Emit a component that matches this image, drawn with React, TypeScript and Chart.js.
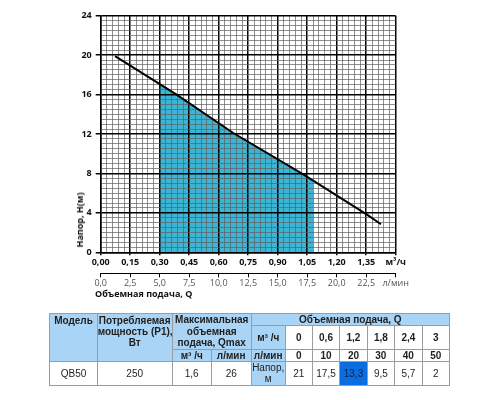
import React, { useEffect, useRef } from 'react';
import { Chart, registerables } from 'chart.js';

Chart.register(...registerables);

// ---- chart data ----
const curveFlow = [0.073, 0.386, 0.674, 1.03, 1.356, 1.425];
const curveHead = [19.9, 16.0, 12.1, 7.9, 3.8, 2.85];
const zoneFlow = [0.3, 0.386, 0.674, 1.03, 1.08];
const zoneHead = [17.0, 16.0, 12.1, 7.9, 7.3];

const flowTickLabels = ['0,00', '0,15', '0,30', '0,45', '0,60', '0,75', '0,90', '1,05', '1,20', '1,35', 'м³/ч'];
const lpmTickLabels = ['0,0', '2,5', '5,0', '7,5', '10,0', '12,5', '15,0', '17,5', '20,0', '22,5', 'л/мин'];
const headTickLabels = ['0', '4', '8', '12', '16', '20', '24'];

const flowStep = 0.15;
const lpmStep = 2.5;
const headStep = 4;
const flowMinorPerMajor = 5;
const headMinorPerMajor = 8;

// ---- table data ----
const tableModel = 'QB50';
const tablePower = '250';
const tableQmaxM3h = '1,6';
const tableQmaxLpm = '26';
const tableFlowM3h = ['0', '0,6', '1,2', '1,8', '2,4', '3'];
const tableFlowLpm = ['0', '10', '20', '30', '40', '50'];
const tableHead = ['21', '17,5', '13,3', '9,5', '5,7', '2'];
const highlightIndex = 2;

const FILL = '#3cb5d4';
const HEADER_BG = '#aad4f5';
const BORDER = '1px solid #9c9c9c';
const MINOR = '#5e5e5e';

function ChartCanvas() {
  const ref = useRef<HTMLCanvasElement | null>(null);
  useEffect(() => {
    if (!ref.current) return;
    const flowMax = flowStep * (flowTickLabels.length - 1);
    const lpmMax = lpmStep * (lpmTickLabels.length - 1);
    const headMax = headStep * (headTickLabels.length - 1);
    const axisFont = { family: '"Open Sans", sans-serif', size: 9, weight: 'bold' as const };
    const chart = new Chart(ref.current, {
      type: 'line',
      data: {
        datasets: [
          {
            data: zoneFlow.map((q, i) => ({ x: q, y: zoneHead[i] })),
            fill: 'origin',
            backgroundColor: FILL,
            borderWidth: 0,
            pointRadius: 0,
            xAxisID: 'x',
            yAxisID: 'y',
          },
          {
            data: curveFlow.map((q, i) => ({ x: q, y: curveHead[i] })),
            fill: false,
            borderColor: '#000',
            borderWidth: 2,
            pointRadius: 0,
            tension: 0,
            xAxisID: 'x',
            yAxisID: 'y',
          },
        ],
      },
      options: {
        responsive: false,
        animation: false,
        events: [],
        layout: { padding: { top: 15.7, right: 104.3, bottom: 6.7, left: 0 } },
        plugins: {
          legend: { display: false },
          tooltip: { enabled: false },
          filler: { drawTime: 'beforeDraw' },
        } as any,
        scales: {
          x: {
            type: 'linear',
            position: 'bottom',
            weight: 0,
            min: 0,
            max: flowMax,
            afterBuildTicks: (scale: any) => {
              const n = (flowTickLabels.length - 1) * flowMinorPerMajor;
              scale.ticks = Array.from({ length: n + 1 }, (_, i) => ({ value: (i * flowStep) / flowMinorPerMajor }));
            },
            afterFit: (scale: any) => {
              scale.height = 21;
            },
            ticks: {
              autoSkip: false,
              maxRotation: 0,
              padding: 2,
              color: '#111',
              font: axisFont,
              callback: (_v: any, i: number) => (i % flowMinorPerMajor === 0 ? flowTickLabels[i / flowMinorPerMajor] : ''),
            },
            grid: {
              color: (c: any) => (c.index % flowMinorPerMajor === 0 ? '#000' : MINOR),
              lineWidth: (c: any) => (c.index % flowMinorPerMajor === 0 ? 1.5 : 0.7),
              tickColor: (c: any) => (c.index % flowMinorPerMajor === 0 ? '#000' : 'rgba(0,0,0,0)'),
              tickLength: 3,
              drawTicks: true,
            },
            border: { display: true, color: '#000', width: 1.5 },
          },
          x2: {
            type: 'linear',
            position: 'bottom',
            weight: 1,
            min: 0,
            max: lpmMax,
            afterBuildTicks: (scale: any) => {
              scale.ticks = lpmTickLabels.map((_, i) => ({ value: i * lpmStep }));
            },
            afterFit: (scale: any) => {
              scale.height = 20;
            },
            ticks: {
              autoSkip: false,
              maxRotation: 0,
              padding: 1,
              color: '#555',
              font: { family: '"Open Sans", sans-serif', size: 9 },
              callback: (_v: any, i: number) => lpmTickLabels[i],
            },
            grid: {
              drawOnChartArea: false,
              drawTicks: true,
              tickLength: 4,
              color: '#000',
              lineWidth: 1,
            },
            border: { display: true, color: '#000', width: 1 },
          },
          y: {
            type: 'linear',
            position: 'left',
            min: 0,
            max: headMax,
            afterBuildTicks: (scale: any) => {
              const n = (headTickLabels.length - 1) * headMinorPerMajor;
              scale.ticks = Array.from({ length: n + 1 }, (_, i) => ({ value: (i * headStep) / headMinorPerMajor }));
            },
            afterFit: (scale: any) => {
              scale.width = 100.7;
            },
            ticks: {
              autoSkip: false,
              padding: 4,
              color: '#111',
              font: axisFont,
              callback: (_v: any, i: number) => (i % headMinorPerMajor === 0 ? headTickLabels[i / headMinorPerMajor] : ''),
            },
            grid: {
              color: (c: any) => (c.index % headMinorPerMajor === 0 ? '#000' : MINOR),
              lineWidth: (c: any) => (c.index % headMinorPerMajor === 0 ? 1.5 : 0.7),
              tickColor: (c: any) => (c.index % headMinorPerMajor === 0 ? '#000' : 'rgba(0,0,0,0)'),
              tickLength: 5,
              drawTicks: true,
            },
            border: { display: true, color: '#000', width: 1.5 },
          },
        },
      } as any,
    });
    return () => chart.destroy();
  }, []);
  return <canvas ref={ref} width={500} height={300} style={{ display: 'block', position: 'absolute', left: 0, top: 0 }} />;
}

const cellBase: React.CSSProperties = {
  border: BORDER,
  padding: 0,
  textAlign: 'center',
  verticalAlign: 'middle',
  lineHeight: '11.2px',
  overflow: 'hidden',
  whiteSpace: 'nowrap',
};
const hdr: React.CSSProperties = { ...cellBase, background: HEADER_BG, fontWeight: 'bold' };
const val: React.CSSProperties = { ...cellBase, background: '#fff' };
const valBold: React.CSSProperties = { ...val, fontWeight: 'bold' };

function DataTable() {
  const colWidths = [47.4, 75, 39, 40, 34, 27, 27.6, 27.4, 27.3, 27.7, 27.3];
  return (
    <table
      style={{
        position: 'absolute',
        left: 49.3,
        top: 312.7,
        width: 399.7,
        borderCollapse: 'collapse',
        tableLayout: 'fixed',
        fontFamily: '"Liberation Sans", Arial, sans-serif',
        fontSize: 10,
        color: '#1e1e1e',
      }}
    >
      <colgroup>
        {colWidths.map((w, i) => (
          <col key={i} style={{ width: w }} />
        ))}
      </colgroup>
      <tbody>
        <tr style={{ height: 11 }}>
          <td rowSpan={3} style={{ ...hdr, verticalAlign: 'top', paddingTop: 1 }}>Модель</td>
          <td rowSpan={3} style={{ ...hdr, verticalAlign: 'top', paddingTop: 1 }}>
            Потребляемая
            <br />
            мощность (P1),
            <br />
            Вт
          </td>
          <td colSpan={2} rowSpan={2} style={hdr}>
            Максимальная
            <br />
            объемная
            <br />
            подача, Qmax
          </td>
          <td colSpan={7} style={hdr}>Объемная подача, Q</td>
        </tr>
        <tr style={{ height: 24 }}>
          <td style={hdr}>м³ /ч</td>
          {tableFlowM3h.map((v, i) => (
            <td key={i} style={valBold}>{v}</td>
          ))}
        </tr>
        <tr style={{ height: 11 }}>
          <td style={hdr}>м³ /ч</td>
          <td style={hdr}>л/мин</td>
          <td style={hdr}>л/мин</td>
          {tableFlowLpm.map((v, i) => (
            <td key={i} style={valBold}>{v}</td>
          ))}
        </tr>
        <tr style={{ height: 21.5 }}>
          <td style={val}>{tableModel}</td>
          <td style={val}>{tablePower}</td>
          <td style={val}>{tableQmaxM3h}</td>
          <td style={val}>{tableQmaxLpm}</td>
          <td style={{ ...cellBase, background: HEADER_BG }}>
            Напор,
            <br />м
          </td>
          {tableHead.map((v, i) => (
            <td
              key={i}
              style={i === highlightIndex ? { ...val, background: '#0a6de0', color: '#0d2550' } : val}
            >
              {v}
            </td>
          ))}
        </tr>
      </tbody>
    </table>
  );
}

export default function App() {
  return (
    <div style={{ position: 'absolute', left: 0, top: 0, width: 500, height: 400, background: '#fff', overflow: 'hidden' }}>
      <ChartCanvas />
      <div
        style={{
          position: 'absolute',
          left: 80,
          top: 220,
          transform: 'translate(-50%, -50%) rotate(-90deg)',
          whiteSpace: 'nowrap',
          fontFamily: '"Open Sans", sans-serif',
          fontWeight: 'bold',
          fontSize: 9,
          lineHeight: '10px',
          color: '#111',
        }}
      >
        Напор, H(м)
      </div>
      <div
        style={{
          position: 'absolute',
          left: 95,
          top: 289,
          whiteSpace: 'nowrap',
          fontFamily: '"Open Sans", sans-serif',
          fontWeight: 'bold',
          fontSize: 9,
          lineHeight: '10px',
          color: '#111',
        }}
      >
        Объемная подача, Q
      </div>
      <DataTable />
    </div>
  );
}
